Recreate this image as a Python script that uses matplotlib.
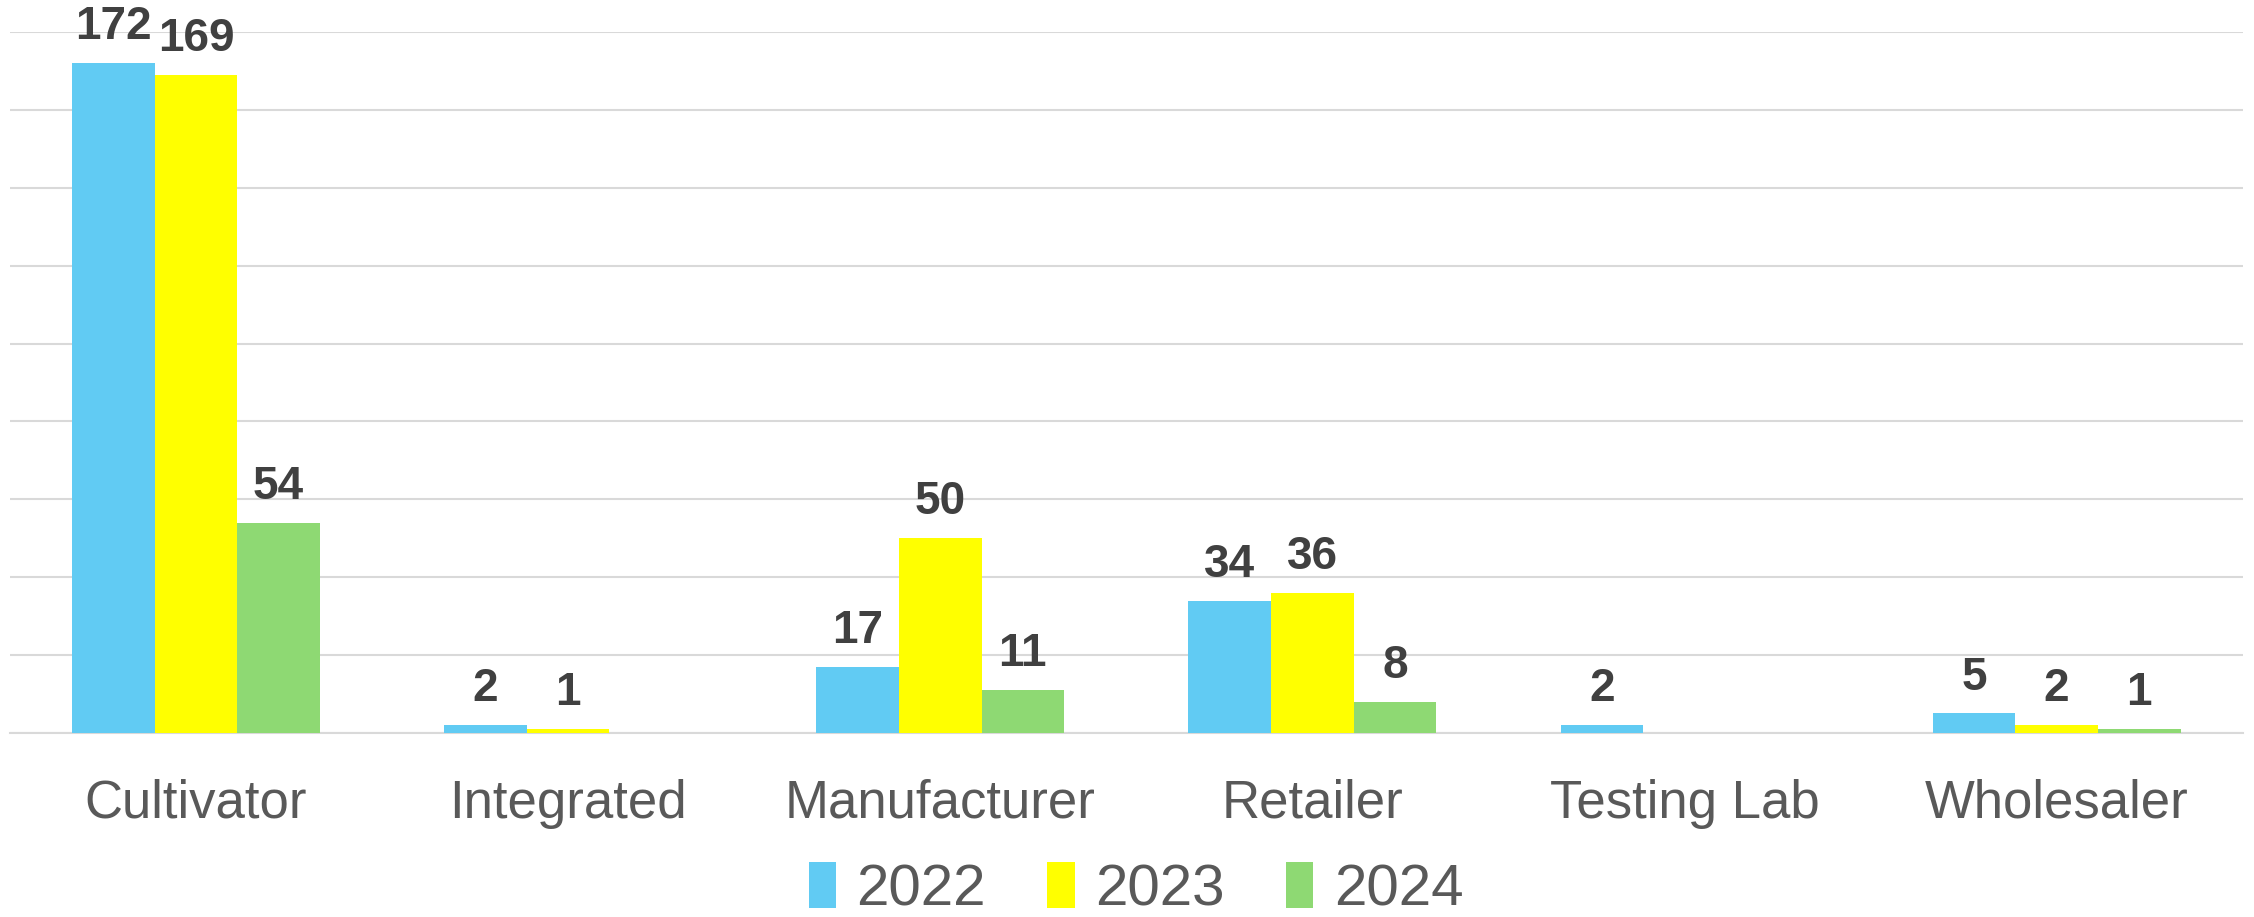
import matplotlib
matplotlib.use('Agg')
import matplotlib.pyplot as plt
import numpy as np

categories = ['Cultivator', 'Integrated', 'Manufacturer', 'Retailer', 'Testing Lab', 'Wholesaler']
years = ['2022', '2023', '2024']
vals_2022 = [172, 2, 17, 34, 2, 5]
vals_2023 = [169, 1, 50, 36, 0, 2]
vals_2024 = [54, 0, 11, 8, 0, 1]
colors = ['#61cbf3', '#ffff00', '#8ed973']

fam = ['Liberation Sans', 'DejaVu Sans']

fig = plt.figure(figsize=(22.54, 9.17), dpi=100)
ax = fig.add_axes([0.0044, 0.2007, 0.9906, 0.7643])

x = np.arange(len(categories))
w = 0.222
series = [vals_2022, vals_2023, vals_2024]
for i, (vals, c, yr) in enumerate(zip(series, colors, years)):
    pos = x + (i - 1) * w
    bars = ax.bar(pos, vals, w, color=c, label=yr, zorder=3)
    for b, v in zip(bars, vals):
        if v == 0:
            continue  # excel hides zero labels here
        ax.annotate(str(v), (b.get_x() + b.get_width() / 2, v),
                    xytext=(0, 10), textcoords='offset points',
                    ha='center', va='bottom', fontsize=33, fontweight='bold',
                    color='#404040', family=fam, zorder=4)

ax.set_xlim(-0.5, len(categories) - 0.5)
ax.set_ylim(0, 180)
ax.set_yticks(np.arange(0, 181, 20))
ax.yaxis.grid(True, color='#d9d9d9', linewidth=1.5, zorder=0)
ax.tick_params(axis='y', left=False, labelleft=False)
ax.tick_params(axis='x', length=0, pad=33)
ax.set_xticks(x)
ax.set_xticklabels(categories, fontsize=38, color='#595959', family=fam)
for s in ['top', 'right', 'left']:
    ax.spines[s].set_visible(False)
ax.spines['bottom'].set_color('#d9d9d9')
ax.spines['bottom'].set_linewidth(1.5)

fig.legend(loc='center', bbox_to_anchor=(0.504, 0.03), ncol=3, frameon=False,
           prop={'family': fam, 'size': 42}, handlelength=0.47, handleheight=0.85,
           handletextpad=0.35, columnspacing=1.05, labelcolor='#595959',
           borderpad=0.1)

fig.savefig('out.png', dpi=100)
